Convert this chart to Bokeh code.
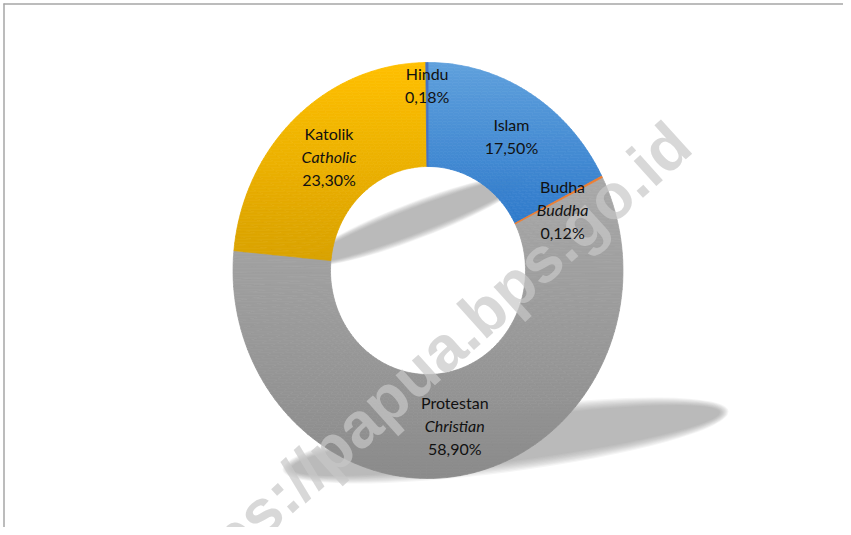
import numpy as np
from bokeh.plotting import figure
from bokeh.models import Range1d, ColumnDataSource
from bokeh.core.properties import value
from bokeh.embed import file_html
from bokeh.resources import INLINE

# ---------------- data ----------------
categories = ["Islam", "Budha", "Protestan", "Katolik", "Hindu"]
english = ["", "Buddha", "Christian", "Catholic", ""]
shares = [17.50, 0.12, 58.90, 23.30, 0.18]
pct_labels = ["17,50%", "0,12%", "58,90%", "23,30%", "0,18%"]

# ---------------- style ----------------
top_colors = ["#5fa0dc", "#ed7d31", "#a9a9a9", "#ffc000", "#4472c4"]
bot_colors = ["#2f7acb", "#ed7d31", "#8b8b8b", "#d9a200", "#4472c4"]
label_offsets = [(7, 1), (4, -9), (0, -2), (0, -1), (0, 30)]  # (dx, dy) px, y up

FW, FH = 843, 527
PAGE_H = 535
CX, CY = 427.5, PAGE_H - 270      # donut centre (page px, y up)
RX, RY = 195.0, 208.0             # outer radii
HOLE = 0.5

p = figure(width=FW, height=FH, output_backend="svg", toolbar_location=None,
           x_range=Range1d(0, FW), y_range=Range1d(PAGE_H - FH, PAGE_H),
           x_axis_location=None, y_axis_location=None, min_border=0,
           background_fill_color="white", border_fill_color="white")
p.grid.visible = False
p.outline_line_color = None


def hexrgb(h):
    h = h.lstrip("#")
    return np.array([int(h[i:i + 2], 16) for i in (0, 2, 4)], dtype=float)


def mix(c1, c2, t):
    c = hexrgb(c1) * (1 - t) + hexrgb(c2) * t
    return "#%02x%02x%02x" % tuple(int(round(v)) for v in c)


# ---------------- shadow (soft, layered) ----------------
def soft_ellipse(x, y, w, h, ang, layers=9, alpha=0.08, color="#7a7a7a"):
    for i in range(layers):
        s = 1.22 - 0.05 * i
        p.ellipse(x=[x], y=[y], width=[w * (0.9 + 0.1 * s)], height=[h * s],
                  angle=np.deg2rad(ang), fill_color=color, fill_alpha=alpha,
                  line_color=None)

soft_ellipse(415, PAGE_H - 220, 230, 30, 21)
soft_ellipse(505, PAGE_H - 440, 440, 52, 7.5)

# ---------------- donut slices (vertical gradient) ----------------
def clip_half(pts, keep, yc):
    out = []
    for i in range(len(pts)):
        cur, prev = pts[i], pts[i - 1]
        ci, pi_ = keep(cur), keep(prev)
        if ci:
            if not pi_:
                out.append(_ix(prev, cur, yc))
            out.append(cur)
        elif pi_:
            out.append(_ix(prev, cur, yc))
    return out


def _ix(a, b, yc):
    t = (yc - a[1]) / (b[1] - a[1])
    return (a[0] + t * (b[0] - a[0]), yc)


def pt(f, r):
    th = np.pi / 2 - 2 * np.pi * f
    return (CX + r * RX * np.cos(th), CY + r * RY * np.sin(th))


total = float(sum(shares))
cum = np.concatenate([[0], np.cumsum(shares)]) / total

sx, sy, sc = [], [], []
thin_x, thin_y, thin_c = [], [], []
STEP = 3.0
for k in range(len(categories)):
    f0, f1 = cum[k], cum[k + 1]
    if shares[k] < 1:
        t = np.linspace(f0, f1, 4)
        o = [pt(f, 1.0) for f in t]
        i_ = [pt(f, HOLE) for f in t[::-1]]
        thin_x.append([q[0] for q in o + i_]); thin_y.append([q[1] for q in o + i_])
        thin_c.append(top_colors[k])
        continue
    # slice vertical extent (for gradient)
    ff = np.linspace(f0, f1, 400)
    ys_all = np.concatenate([[pt(f, 1.0)[1] for f in ff], [pt(f, HOLE)[1] for f in ff]])
    ymin, ymax = ys_all.min(), ys_all.max()
    nq = max(2, int(np.ceil((f1 - f0) * 360 / 2.0)))
    fs = np.linspace(f0, f1, nq + 1)
    for a, b in zip(fs[:-1], fs[1:]):
        quad = [pt(a, 1.0), pt(b, 1.0), pt(b, HOLE), pt(a, HOLE)]
        qy = [q[1] for q in quad]
        lo = np.floor((min(qy) - ymin) / STEP) * STEP + ymin
        y0 = lo
        while y0 < max(qy):
            y1 = y0 + STEP
            q = clip_half(quad, lambda P: P[1] >= y0, y0)
            if q:
                q = clip_half(q, lambda P: P[1] <= y1, y1)
            if len(q) >= 3:
                tt = (ymax - 0.5 * (y0 + y1)) / (ymax - ymin)
                tt = min(1, max(0, tt))
                sx.append([P[0] for P in q]); sy.append([P[1] for P in q])
                sc.append(mix(top_colors[k], bot_colors[k], tt))
            y0 = y1

p.patches(xs="xs", ys="ys", fill_color="c", line_color="c", line_width=0.7,
          source=ColumnDataSource(dict(xs=sx, ys=sy, c=sc)))
p.patches(xs="xs", ys="ys", fill_color="c", line_color="c", line_width=0.8,
          source=ColumnDataSource(dict(xs=thin_x, ys=thin_y, c=thin_c)))

# ---------------- watermark ----------------
p.text(x=[680], y=[PAGE_H - 134], text=["https://papua.bps.go.id"],
       angle=np.deg2rad(42), text_align="right", text_baseline="middle",
       text_font=value("Liberation Sans"), text_font_style="bold",
       text_font_size="64px", text_color="#c8c8c8", text_alpha=0.7)

# ---------------- labels ----------------
LS = 23
nx, ny, nt = [], [], []
ix, iy, it = [], [], []
for k in range(len(categories)):
    fm = 0.5 * (cum[k] + cum[k + 1])
    ax, ay = pt(fm, 0.5 * (1 + HOLE))
    ax += label_offsets[k][0]
    ay += label_offsets[k][1]
    lines = [(categories[k], False)]
    if english[k]:
        lines.append((english[k], True))
    lines.append((pct_labels[k], False))
    n = len(lines)
    for j, (txt, ital) in enumerate(lines):
        yy = ay + (n - 1) / 2 * LS - j * LS
        if ital:
            ix.append(ax); iy.append(yy); it.append(txt)
        else:
            nx.append(ax); ny.append(yy); nt.append(txt)

p.text(x=nx, y=ny, text=nt, text_align="center", text_baseline="middle",
       text_font=value("Lato"), text_font_size="16px", text_color="#111111")
p.text(x=ix, y=iy, text=it, text_align="center", text_baseline="middle",
       text_font=value("Lato"), text_font_style="italic", text_font_size="16px",
       text_color="#111111")

# ---------------- frame lines ----------------
p.segment(x0=[3, 3.5], y0=[PAGE_H - 3.5, PAGE_H - 3], x1=[FW, 3.5],
          y1=[PAGE_H - 3.5, PAGE_H - FH], line_color="#a6a6a6", line_width=1.5)

open("out.html", "w").write(file_html(p, INLINE))
